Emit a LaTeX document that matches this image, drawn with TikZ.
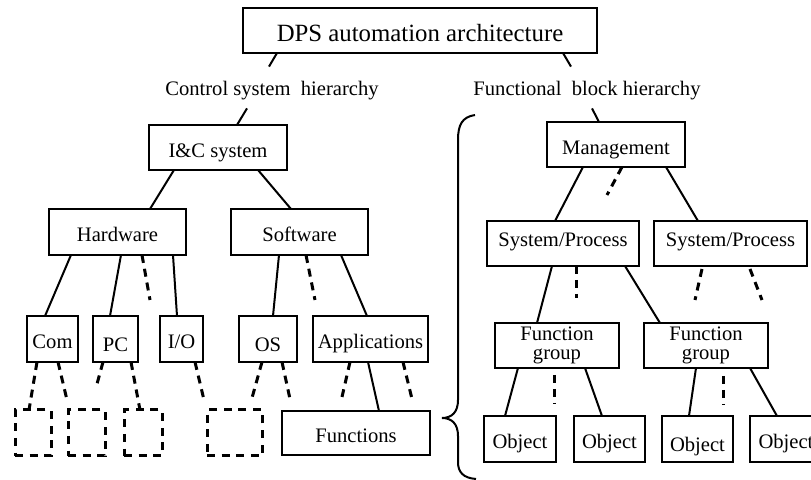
\documentclass[tikz,border=0pt]{standalone}
\usepackage{fontspec}
\setmainfont{Liberation Serif}
\usetikzlibrary{positioning}

\begin{document}
\begin{tikzpicture}[
      x=0.5pt, y=-0.5pt,
      unitbox/.style={draw, line width=1pt, outer sep=0pt, inner sep=1pt, minimum height=23pt, text height=10pt, text depth=0pt, font=\fontsize{10.3}{12}\selectfont},
      sunk/.style={text height=13pt},
      lifted/.style={text height=7pt, text depth=3.8pt},
      grpbox/.style={draw, line width=1pt, outer sep=0pt, inner sep=1pt, minimum width=62pt, minimum height=22.5pt, align=center, font=\fontsize{10.3}{9.2}\selectfont},
      ghostbox/.style={draw, line width=1.5pt, dash pattern=on 4pt off 3.3pt, outer sep=0pt, minimum height=23pt},
      tagline/.style={inner xsep=1pt, inner ysep=3pt, text height=11.5pt, text depth=3pt, font=\fontsize{10.3}{12}\selectfont},
      link/.style={line width=1pt},
      stub/.style={line width=1.5pt, dash pattern=on 4pt off 3pt}
    ]
    \useasboundingbox (0,0) rectangle (811,480);

    % top and the two hierarchies
    \node[unitbox, minimum width=177pt, minimum height=22.5pt, text height=11.2pt, font=\fontsize{12.4}{14}\selectfont] (dps) at (420,30.5) {DPS automation architecture};
    \node[tagline] (ctrl) at (272,87.5) {Control system\ \ hierarchy};
    \node[tagline] (func) at (587,87.5) {Functional\ \ block hierarchy};

    % control system side
    \node[unitbox, minimum width=69pt, minimum height=22.5pt] (ics) at (218,147.5) {I\&C system};
    \node[unitbox, minimum width=68.5pt] (hw) at (117.5,232) {Hardware};
    \node[unitbox, minimum width=68.5pt, right=22.5pt of hw] (sw) {Software};

    \node[unitbox, minimum width=25.5pt] (com) at (52.5,339) {Com};
    \node[unitbox, sunk, minimum width=22.5pt, right=7.5pt of com] (pc) {PC};
    \node[unitbox, minimum width=21.5pt, right=11pt of pc] (io) {I/O};
    \node[unitbox, sunk, minimum width=29pt, right=18pt of io] (os) {OS};
    \node[unitbox, minimum width=57.5pt, right=8pt of os] (app) {Applications};

    \node[ghostbox, minimum width=18pt] (d1) at (33,433) {};
    \node[ghostbox, minimum width=18.5pt, right=8.5pt of d1] (d2) {};
    \node[ghostbox, minimum width=19pt, right=9.5pt of d2] (d3) {};
    \node[ghostbox, minimum width=27.5pt, right=22.5pt of d3] (d4) {};
    \node[unitbox, minimum width=74pt, minimum height=22pt, right=10pt of d4] (fun) {Functions};

    % functional block side
    \node[unitbox, minimum width=69pt, minimum height=22.5pt] (mgmt) at (616,144.5) {Management};
    \node[unitbox, lifted, minimum width=76pt, minimum height=22.5pt] (sp1) at (563,243.5) {System/Process};
    \node[unitbox, lifted, minimum width=76.5pt, minimum height=22.5pt, right=7.5pt of sp1] (sp2) {System/Process};

    \node[grpbox] (fg1) at (557,345.5) {Function\\group};
    \node[grpbox, right=12.5pt of fg1] (fg2) {Function\\group};

    \node[unitbox, minimum width=36pt] (o1) at (520,439) {Object};
    \node[unitbox, minimum width=35.5pt, right=9pt of o1] (o2) {Object};
    \node[unitbox, sunk, minimum width=35.5pt, right=8.5pt of o2] (o3) {Object};
    \node[unitbox, minimum width=36pt, right=8.5pt of o3] (o4) {Object};

    % connectors
    \draw[link] (dps.south -| 277,0) -- (ctrl.north -| 269,0);
    \draw[link] (dps.south -| 563,0) -- (func.north -| 571,0);
    \draw[link] (ctrl.south -| 247,0) -- (ics.north -| 237,0);
    \draw[link] (func.south -| 592,0) -- (mgmt.north -| 599,0);

    \draw[link] (ics.south -| 174,0) -- (hw.north -| 150,0);
    \draw[link] (ics.south -| 258,0) -- (sw.north -| 291,0);
    \draw[link] (hw.south -| 71,0) -- (com.north -| 45,0);
    \draw[link] (hw.south -| 121,0) -- (pc.north -| 110,0);
    \draw[stub] (hw.south -| 142,0) -- ++(8,45);
    \draw[link] (hw.south -| 173,0) -- (io.north -| 177,0);
    \draw[link] (sw.south -| 279,0) -- (os.north -| 273,0);
    \draw[stub] (sw.south -| 306,0) -- ++(9,45);
    \draw[link] (sw.south -| 341,0) -- (app.north -| 367,0);

    \draw[stub] (com.south -| 37,0) -- (d1.north -| 29,0);
    \draw[stub] (com.south -| 58,0) -- ++(9,38);
    \draw[stub] (pc.south -| 103,0) -- ++(-6,22);
    \draw[stub] (pc.south -| 131,0) -- (d3.north -| 140,0);
    \draw[stub] (io.south -| 195,0) -- ++(9,38);
    \draw[stub] (os.south -| 262,0) -- ++(-10,36);
    \draw[stub] (os.south -| 282,0) -- ++(8,37);
    \draw[stub] (app.south -| 350,0) -- ++(-8,35);
    \draw[link] (app.south -| 368,0) -- (fun.north -| 379,0);
    \draw[stub] (app.south -| 403,0) -- ++(9,37);

    \draw[link] (mgmt.south -| 583,0) -- (sp1.north -| 555,0);
    \draw[stub] (mgmt.south -| 622,0) -- ++(-15,28);
    \draw[link] (mgmt.south -| 666,0) -- (sp2.north -| 698,0);
    \draw[link] (sp1.south -| 552,0) -- (fg1.north -| 537,0);
    \draw[stub] (sp1.south -| 576,0) -- ++(0,32);
    \draw[link] (sp1.south -| 625,0) -- (fg2.north -| 660,0);
    \draw[stub] (sp2.south -| 702,0) ++(0,3) -- ++(-7,31);
    \draw[stub] (sp2.south -| 750,0) ++(0,3) -- ++(12,31);

    \draw[link] (fg1.south -| 518,0) -- (o1.north -| 505,0);
    \draw[stub] (fg1.south -| 554,0) ++(0,7) -- ++(0,29);
    \draw[link] (fg1.south -| 585,0) -- (o2.north -| 602,0);
    \draw[link] (fg2.south -| 696,0) -- (o3.north -| 689,0);
    \draw[stub] (fg2.south -| 723,0) ++(0,8) -- ++(0,29);
    \draw[link] (fg2.south -| 750,0) -- (o4.north -| 777,0);

    % brace
    \draw[link] (475,115) .. controls (462,117) and (458,125) .. (458,140) -- (458,400)
      .. controls (458,412) and (452,418) .. (442,418)
      .. controls (452,418) and (458,424) .. (458,436) -- (458,462)
      .. controls (458,472) and (463,478) .. (476,479);
  \end{tikzpicture}
\end{document}
